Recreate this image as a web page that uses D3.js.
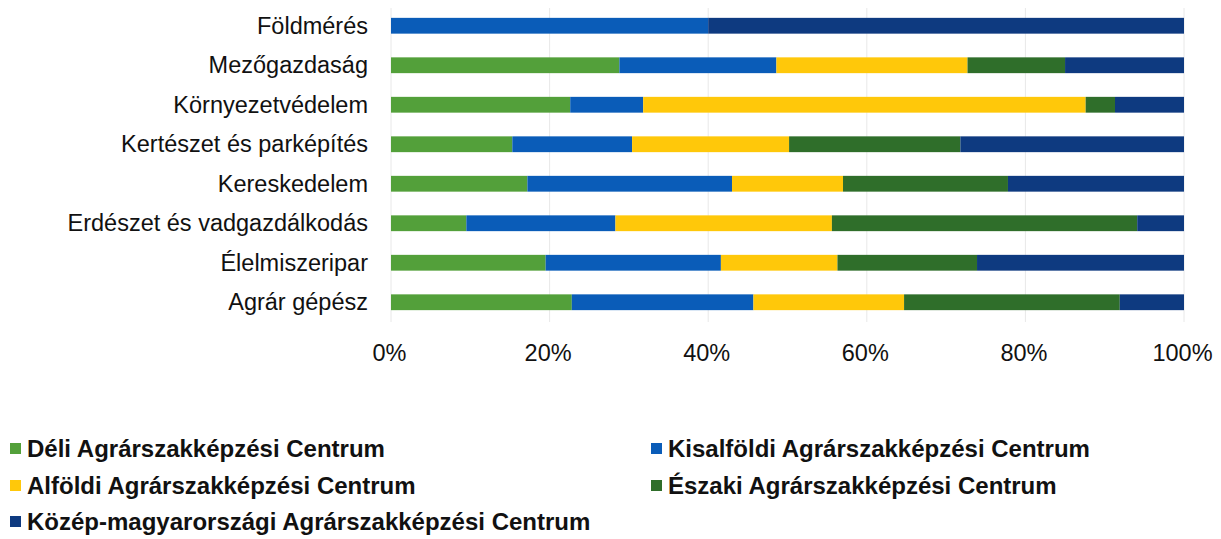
<!DOCTYPE html>
<html>
<head>
<meta charset="utf-8">
<script src="https://cdn.jsdelivr.net/npm/d3@7"></script>
<style>
  body { margin: 0; background: #fff; }
  svg text { font-family: "Liberation Sans", Arial, sans-serif; fill: #111; }
</style>
</head>
<body>
<div id="plot"></div>
<script>
const categories = ["Földmérés", "Mezőgazdaság", "Környezetvédelem", "Kertészet és parképítés",
  "Kereskedelem", "Erdészet és vadgazdálkodás", "Élelmiszeripar", "Agrár gépész"];
const seriesNames = ["Déli Agrárszakképzési Centrum", "Kisalföldi Agrárszakképzési Centrum",
  "Alföldi Agrárszakképzési Centrum", "Északi Agrárszakképzési Centrum",
  "Közép-magyarországi Agrárszakképzési Centrum"];
const colors = ["#53a03a", "#0a5cb8", "#ffc80a", "#2f6e2a", "#0e3a80"];
// shares (%) per category, in series order
const deli       = [0,    28.8, 22.6, 15.3, 17.2, 9.5,  19.5, 22.8];
const kisalfoldi = [40.0, 19.8, 9.2,  15.1, 25.8, 18.8, 22.1, 22.9];
const alfoldi    = [0,    24.1, 55.8, 19.8, 14.0, 27.3, 14.7, 19.0];
const eszaki     = [0,    12.3, 3.7,  21.6, 20.8, 38.5, 17.6, 27.2];
const kozep      = [60.0, 15.0, 8.7,  28.2, 22.2, 5.9,  26.1, 8.1];
const tickValues = [0, 20, 40, 60, 80, 100];

const w = 1221, h = 539;
const svg = d3.select("#plot").append("svg").attr("width", w).attr("height", h);

const table = categories.map((c, i) => ({
  cat: c, s0: deli[i], s1: kisalfoldi[i], s2: alfoldi[i], s3: eszaki[i], s4: kozep[i]
}));
const keys = ["s0", "s1", "s2", "s3", "s4"];
const stacked = d3.stack().keys(keys)(table);

const x = d3.scaleLinear().domain([0, 100]).range([391, 1184]);
const y = d3.scaleBand().domain(categories).range([6, 322]).paddingInner(0.6).paddingOuter(0.3);

// gridlines
svg.append("g")
  .selectAll("line")
  .data(tickValues)
  .enter()
  .append("line")
  .attr("x1", d => x(d)).attr("x2", d => x(d))
  .attr("y1", 8).attr("y2", 322)
  .attr("stroke", "#e8e8e8")
  .attr("stroke-width", 1);

// bars
svg.append("g")
  .selectAll("g")
  .data(stacked)
  .enter()
  .append("g")
  .attr("fill", (d, i) => colors[i])
  .selectAll("rect")
  .data(d => d)
  .enter()
  .append("rect")
  .attr("x", d => x(d[0]))
  .attr("y", d => y(d.data.cat))
  .attr("width", d => x(d[1]) - x(d[0]))
  .attr("height", y.bandwidth());

// category labels
const yAxis = svg.append("g")
  .attr("transform", "translate(" + 391 + ",0)")
  .call(d3.axisLeft(y).tickSize(0).tickPadding(23));
yAxis.select(".domain").remove();
yAxis.selectAll("text")
  .style("font-size", "23.5px")
  .attr("font-family", null)
  .attr("dy", "0.34em");

// x tick labels
const xAxis = svg.append("g")
  .attr("transform", "translate(0," + 361 + ")")
  .call(d3.axisBottom(x).tickValues(tickValues).tickFormat(d => d + "%").tickSize(0).tickPadding(0));
xAxis.select(".domain").remove();
xAxis.selectAll("text")
  .style("font-size", "23.5px")
  .attr("font-family", null)
  .attr("y", 0)
  .attr("dy", 0)
  .attr("dx", "-2");

// legend
const legendPos = [[10, 457], [651, 457], [10, 494], [651, 494], [10, 530]];
const legend = svg.append("g")
  .selectAll("g")
  .data(seriesNames)
  .enter()
  .append("g")
  .attr("transform", (d, i) => "translate(" + legendPos[i][0] + "," + legendPos[i][1] + ")");
legend.append("rect")
  .attr("x", 0).attr("y", -14)
  .attr("width", 11).attr("height", 11)
  .attr("fill", (d, i) => colors[i]);
legend.append("text")
  .attr("x", 17)
  .style("font-size", "24px")
  .style("font-weight", "bold")
  .text(d => d);
</script>
</body>
</html>
